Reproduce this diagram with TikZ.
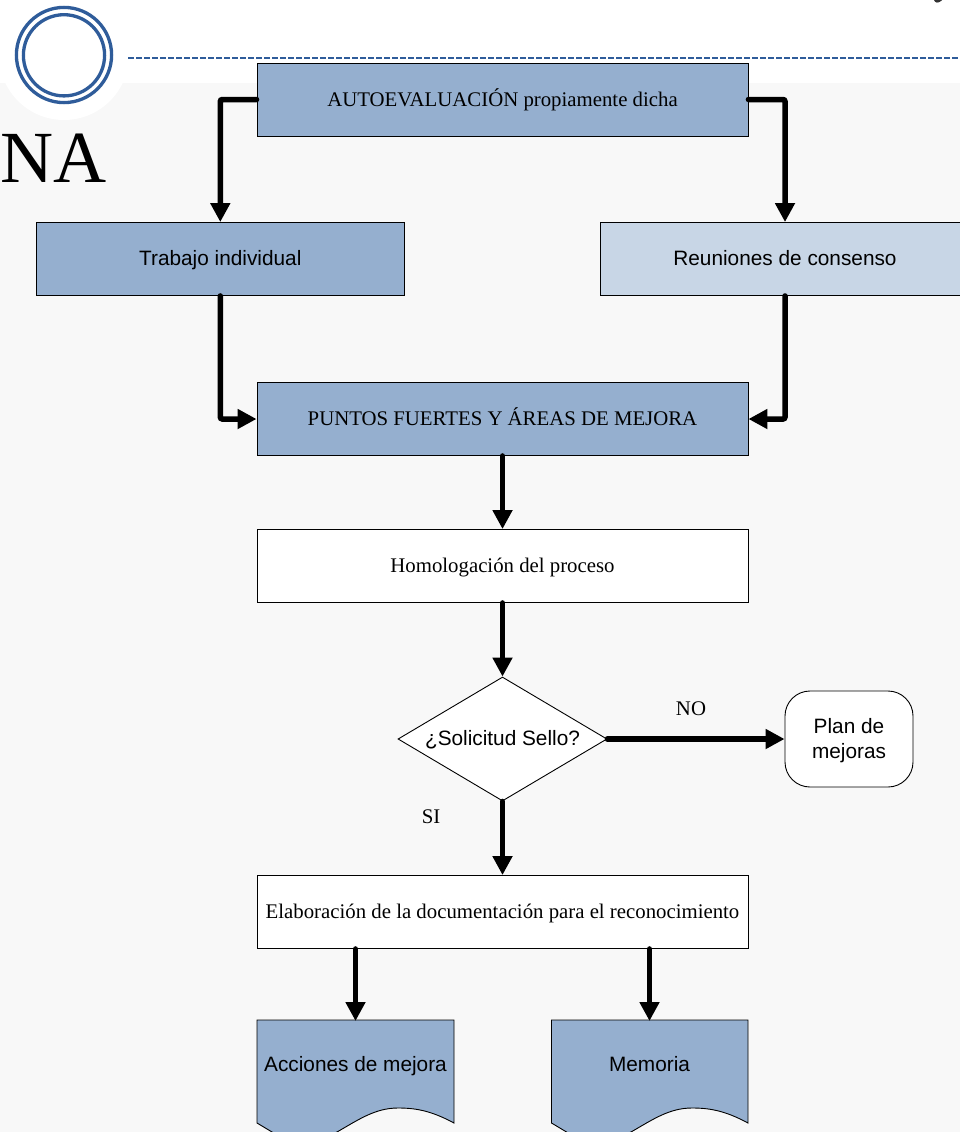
\documentclass[tikz,border=0pt]{standalone}
\usepackage{fontspec}
\setmainfont{Liberation Serif}
\newfontfamily\sansf{Liberation Sans}
\usetikzlibrary{arrows.meta,shapes.geometric}
\definecolor{boxblue}{HTML}{95AFCF}
\definecolor{boxlight}{HTML}{C8D6E6}
\definecolor{pagebg}{HTML}{F8F8F8}
\definecolor{ringblue}{HTML}{2F5C9A}
\tikzset{
  flowbox/.style={draw=black,line width=.9pt,minimum height=73pt,inner sep=0pt,anchor=center,text=black},
  serift/.style={font=\fontsize{20.8}{24}\selectfont,text height=16.5pt,text depth=3.5pt},
  sanst/.style={font=\sansf\fontsize{20.8}{25}\selectfont,text height=16.5pt,text depth=3.5pt},
  link/.style={line width=5.5pt,line cap=round,rounded corners=2pt,-{Triangle[length=19pt,width=19pt]}},
  lbl/.style={font=\fontsize{20.8}{24}\selectfont,inner sep=0pt},
  ring/.style={draw=ringblue,line width=3.3pt,fill=none},
  docshape/.style={draw=black,line width=.9pt,fill=boxblue},
}
\begin{document}
\begin{tikzpicture}[x=1pt,y=-1pt]
\useasboundingbox (0,0) rectangle (960,1132);
\fill[pagebg] (0,83) rectangle (960,1132);
\fill[white] (64,55) circle (65pt);
\draw[ring] (64,55) circle (47.6pt);
\draw[ring] (64,55.3) circle (40.6pt);
\coordinate (dashA) at (128,58);
\coordinate (dashB) at (960,58);
\draw[ringblue,line width=2pt,dash pattern=on 6pt off 2pt] (dashA) -- (dashB);
\fill[black!80] (934,0) .. controls (935,3) and (938,3.5) .. (941,1) -- (942,0) -- cycle;
\node[inner sep=0pt,anchor=base west,font=\fontsize{73.5}{80}\selectfont] (title) at (0,182) {NA};

\node[flowbox,serift,fill=boxblue,minimum width=491pt] (A) at (502.5,99.5) {AUTOEVALUACIÓN propiamente dicha};
\node[flowbox,sanst,fill=boxblue,minimum width=368.5pt] (B) at (220.3,259) {Trabajo individual};
\begin{scope}
\clip (0,0) rectangle (960,1132);
\node[flowbox,sanst,fill=boxlight,minimum width=369pt] (C) at (785,259) {Reuniones de consenso};
\end{scope}
\node[flowbox,serift,fill=boxblue,minimum width=491pt] (D) at (502.5,419) {PUNTOS FUERTES Y ÁREAS DE MEJORA};
\node[flowbox,serift,fill=white,minimum width=491pt] (E) at (502.5,566) {Homologación del proceso};
\node[draw=black,line width=.9pt,fill=white,diamond,aspect=1.68,minimum width=209pt,minimum height=124pt,inner sep=0pt] (Q) at (502.5,739) {};
\node[sanst,inner sep=0pt] (Qt) at (502.5,739) {¿Solicitud Sello?};
\node[draw=black,line width=.9pt,fill=white,rounded corners=25pt,minimum width=128pt,minimum height=96pt,inner sep=0pt] (P) at (849,739) {};
\node[inner sep=0pt,align=center,font=\sansf\fontsize{20.8}{25}\selectfont] (Pt) at (849,741) {Plan de\\mejoras};
\node[flowbox,serift,fill=white,minimum width=491pt] (F) at (502.5,912) {Elaboración de la documentación para el reconocimiento};

\begin{scope}
\clip (0,0) rectangle (960,1132);
\draw[docshape] (257,1020) -- (454,1020) -- (454,1123)
  .. controls (430,1110) and (414,1108) .. (398,1108)
  .. controls (375,1108) and (358,1120) .. (337,1132)
  .. controls (320,1140) and (290,1142) .. (272,1132)
  -- (257,1123) -- cycle;
\draw[docshape] (551.5,1020) -- (748,1020) -- (748,1123)
  .. controls (724,1110) and (708,1108) .. (692,1108)
  .. controls (669,1108) and (652,1120) .. (631,1132)
  .. controls (614,1140) and (584,1142) .. (566.5,1132)
  -- (551.5,1123) -- cycle;
\end{scope}
\node[minimum width=197pt,minimum height=88pt,inner sep=0pt,sanst] (G) at (355.5,1065) {Acciones de mejora};
\node[minimum width=197pt,minimum height=88pt,inner sep=0pt,sanst] (H) at (649.5,1065) {Memoria};

\node[lbl] (no) at (691,709) {NO};
\node[lbl] (si) at (431,817) {SI};

\draw[link] (A.west) -| (B.north);
\draw[link] (A.east) -| (C.north);
\draw[link] (B.south) |- (D.west);
\draw[link] (C.south) |- (D.east);
\draw[link] (D.south) -- (E.north);
\draw[link] (E.south) -- (Q.north);
\draw[link] (Q.east) -- (P.west);
\draw[link] (Q.south) -- (F.north);
\draw[link] (F.south -| G.north) -- (G.north |- 0,1021);
\draw[link] (F.south -| H.north) -- (H.north |- 0,1021);
\end{tikzpicture}
\end{document}
